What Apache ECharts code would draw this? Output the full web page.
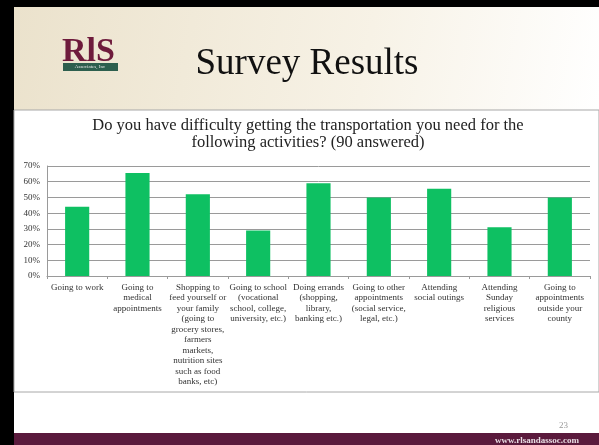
<!DOCTYPE html>
<html><head><meta charset="utf-8">
<script src="https://cdn.jsdelivr.net/npm/echarts@6/dist/echarts.min.js"></script>
<style>html,body{margin:0;padding:0;background:#fff}#c{width:599px;height:445px}</style>
</head><body><div id="c"></div>
<script>
var categories = [
  "Going to work",
  "Going to\nmedical\nappointments",
  "Shopping to\nfeed yourself or\nyour family\n(going to\ngrocery stores,\nfarmers\nmarkets,\nnutrition sites\nsuch as food\nbanks, etc)",
  "Going to school\n(vocational\nschool, college,\nuniversity, etc.)",
  "Doing errands\n(shopping,\nlibrary,\nbanking etc.)",
  "Going to other\nappointments\n(social service,\nlegal, etc.)",
  "Attending\nsocial outings",
  "Attending\nSunday\nreligious\nservices",
  "Going to\nappointments\noutside your\ncounty"
];
var percentValues = [44, 65.5, 52, 29, 59, 50, 55.5, 31, 50];
var yTicks = [0, 10, 20, 30, 40, 50, 60, 70];
var titleText = "Survey Results";
var questionText = "Do you have difficulty getting the transportation you need for the\nfollowing activities? (90 answered)";

var chart = echarts.init(document.getElementById('c'), null, {renderer: 'canvas'});
var serif = '"Liberation Serif","DejaVu Serif",serif';
chart.setOption({
  animation: false,
  backgroundColor: '#ffffff',
  graphic: [
    {type: 'rect', z: -10, shape: {x: 0, y: 0, width: 599, height: 445}, style: {fill: '#000'}},
    {type: 'rect', z: -9, shape: {x: 14, y: 7, width: 585, height: 438}, style: {fill: '#fff'}},
    {type: 'rect', z: -8, shape: {x: 14, y: 7, width: 585, height: 103},
      style: {fill: new echarts.graphic.LinearGradient(0, 0, 1, 1, [
        {offset: 0, color: '#ebe2cc'}, {offset: 0.6, color: '#f7f2e6'}, {offset: 1, color: '#ffffff'}])}},
    {type: 'rect', z: -7, shape: {x: 14, y: 110, width: 585, height: 282}, style: {fill: '#fff', stroke: '#a8a8a8', lineWidth: 1}},
    {type: 'rect', z: -7, shape: {x: 14, y: 433, width: 585, height: 12}, style: {fill: '#5a1a3c'}},
    {type: 'text', style: {text: 'RlS', x: 62, y: 35, font: 'bold 34px ' + serif, fill: '#6e1b3c'}},
    {type: 'rect', shape: {x: 63, y: 63, width: 55, height: 8}, style: {fill: '#2d5f4e'}},
    {type: 'text', style: {text: 'Associates, Inc', x: 90, y: 64, font: '5px ' + serif, fill: '#e8e8e8', textAlign: 'center'}},
    {type: 'text', style: {text: titleText, x: 307, y: 64, font: '37px ' + serif, fill: '#111', textAlign: 'center', textVerticalAlign: 'middle'}},
    {type: 'text', style: {text: questionText, x: 308, y: 117, font: '16.5px ' + serif, fill: '#222', textAlign: 'center', lineHeight: 17}},
    {type: 'text', style: {text: '23', x: 568, y: 421, font: '9px ' + serif, fill: '#999', textAlign: 'right'}},
    {type: 'text', style: {text: 'www.rlsandassoc.com', x: 579, y: 436, font: 'bold 9px ' + serif, fill: '#e8dde3', textAlign: 'right'}}
  ],
  grid: {left: 47, right: 9, top: 166, bottom: 169},
  xAxis: {
    type: 'category', data: categories,
    axisLine: {lineStyle: {color: '#9a9a9a'}},
    axisTick: {show: true, length: 3, lineStyle: {color: '#9a9a9a'}},
    axisLabel: {interval: 0, margin: 6, fontFamily: serif, fontSize: 9, color: '#333', lineHeight: 10.5}
  },
  yAxis: {
    type: 'value', min: yTicks[0], max: yTicks[yTicks.length - 1], interval: 10,
    axisLine: {show: true, lineStyle: {color: '#9a9a9a'}},
    axisTick: {show: false},
    splitLine: {lineStyle: {color: '#9a9a9a'}},
    axisLabel: {formatter: '{value}%', fontFamily: serif, fontSize: 9, color: '#333', margin: 7}
  },
  series: [{
    type: 'bar', data: percentValues, barWidth: '40%',
    itemStyle: {color: '#0ec062'}
  }]
});
</script></body></html>
